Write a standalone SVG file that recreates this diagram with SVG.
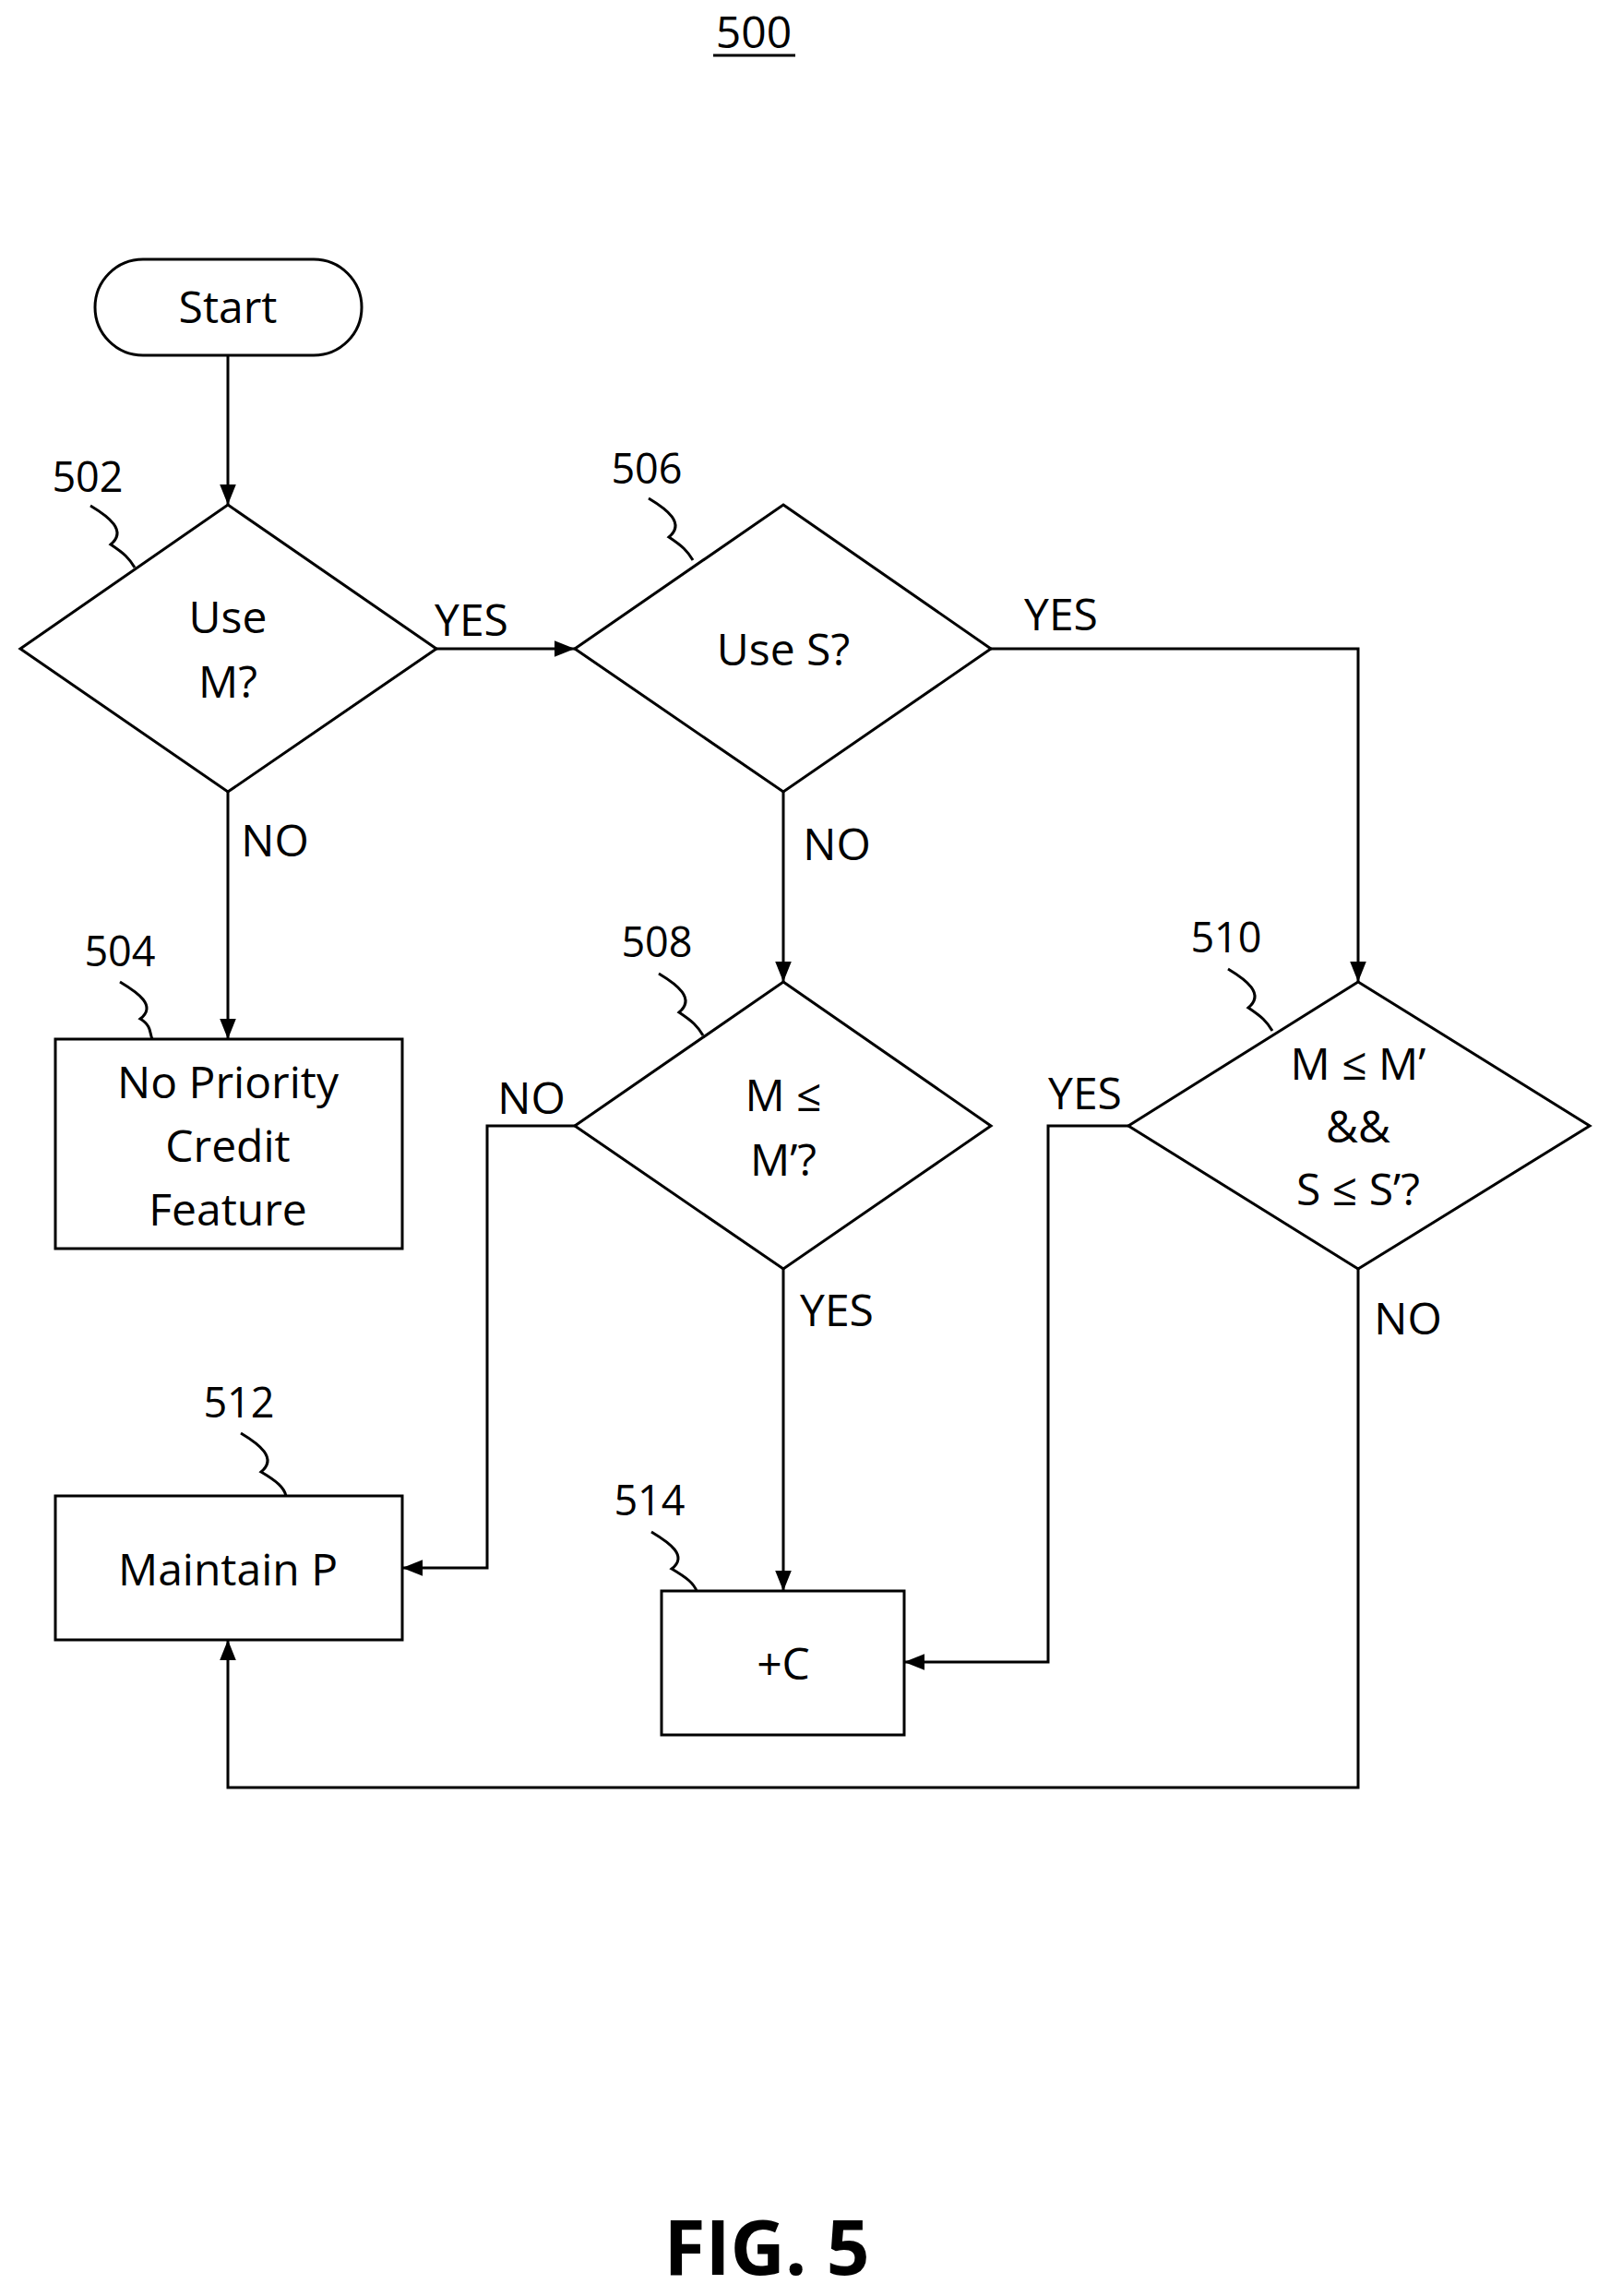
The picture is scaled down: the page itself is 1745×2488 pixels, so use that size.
<svg xmlns="http://www.w3.org/2000/svg" width="1745" height="2488" viewBox="0 0 1745 2488">
<style>
.s{fill:none;stroke:#000;stroke-width:3}
.n{fill:#fff;stroke:#000;stroke-width:3}
text{font-family:"Open Sans","Liberation Sans",sans-serif;font-size:48px;fill:#000;text-anchor:middle}
.l{font-size:45px}
</style>
<defs>
<marker id="b" viewBox="0 0 10 10" refX="10" refY="5" markerWidth="22" markerHeight="22" orient="auto" markerUnits="userSpaceOnUse"><path d="M0,1L10,5L0,9z" fill="#000"/></marker></defs>
<text x="817" y="52">500</text><line x1="773" y1="60" x2="862" y2="60" stroke="#000" stroke-width="3"/>
<g id="connectors" class="s">
<path d="M247,385V547" marker-end="url(#b)"/>
<path d="M473,703H623" marker-end="url(#b)"/>
<path d="M247,858V1126" marker-end="url(#b)"/>
<path d="M849,858V1064" marker-end="url(#b)"/>
<path d="M1074,703H1472V1064" marker-end="url(#b)"/>
<path d="M623,1220H528V1699H436" marker-end="url(#b)"/>
<path d="M849,1375V1724" marker-end="url(#b)"/>
<path d="M1223,1220H1136V1801H980" marker-end="url(#b)"/>
<path d="M1472,1375V1937H247V1777" marker-end="url(#b)"/>
</g>
<g id="start"><rect class="n" x="103" y="281" width="289" height="104" rx="52"/><text x="247" y="350">Start</text></g>
<g id="n502"><path class="n" d="M247,547L473,703L247,858L22,703z"/><text x="247" y="686">Use</text><text x="247" y="756">M?</text>
<text class="l" x="95" y="533">502</text><path class="s" d="M98,548C118,560 138,575 120,590C135,600 140,605 146,615"/></g>
<g id="n506"><path class="n" d="M849,547L1074,703L849,858L623,703z"/><text x="849" y="721">Use S?</text>
<text class="l" x="701" y="524">506</text><path class="s" d="M703,540C723,552 743,567 725,582C740,592 745,597 751,607"/></g>
<g id="n504"><rect class="n" x="60" y="1126" width="376" height="227"/><text x="247" y="1190">No Priority</text><text x="247" y="1259">Credit</text><text x="247" y="1328">Feature</text>
<text class="l" x="130" y="1047">504</text><path class="s" d="M130,1064C150,1076 170,1090 152,1104C165,1112 162,1120 165,1126"/></g>
<g id="n508"><path class="n" d="M849,1064L1074,1220L849,1375L623,1220z"/><text x="849" y="1204">M ≤</text><text x="849" y="1274">M’?</text>
<text class="l" x="712" y="1037">508</text><path class="s" d="M714,1055C734,1067 754,1082 736,1097C751,1107 756,1112 762,1122"/></g>
<g id="n510"><path class="n" d="M1472,1064L1723,1220L1472,1375L1223,1220z"/><text x="1472" y="1170">M ≤ M’</text><text x="1472" y="1238">&amp;&amp;</text><text x="1472" y="1306">S ≤ S’?</text>
<text class="l" x="1329" y="1032">510</text><path class="s" d="M1331,1050C1351,1062 1371,1077 1353,1092C1368,1102 1373,1107 1379,1117"/></g>
<g id="n512"><rect class="n" x="60" y="1621" width="376" height="156"/><text x="247" y="1718">Maintain P</text>
<text class="l" x="259" y="1536">512</text><path class="s" d="M261,1553C281,1565 301,1580 283,1595C300,1605 308,1612 310,1621"/></g>
<g id="n514"><rect class="n" x="717" y="1724" width="263" height="156"/><text x="849" y="1820">+C</text>
<text class="l" x="704" y="1642">514</text><path class="s" d="M706,1660C726,1672 746,1686 728,1700C745,1710 752,1716 755,1724"/></g>
<g id="labels">
<text x="511" y="689">YES</text><text x="1150" y="683">YES</text>
<text x="298" y="928">NO</text><text x="907" y="932">NO</text>
<text x="576" y="1207">NO</text><text x="907" y="1437">YES</text>
<text x="1176" y="1202">YES</text><text x="1526" y="1446">NO</text>
</g>
<text x="831" y="2465" style="font-size:82px;font-weight:bold">FIG. 5</text>
</svg>
